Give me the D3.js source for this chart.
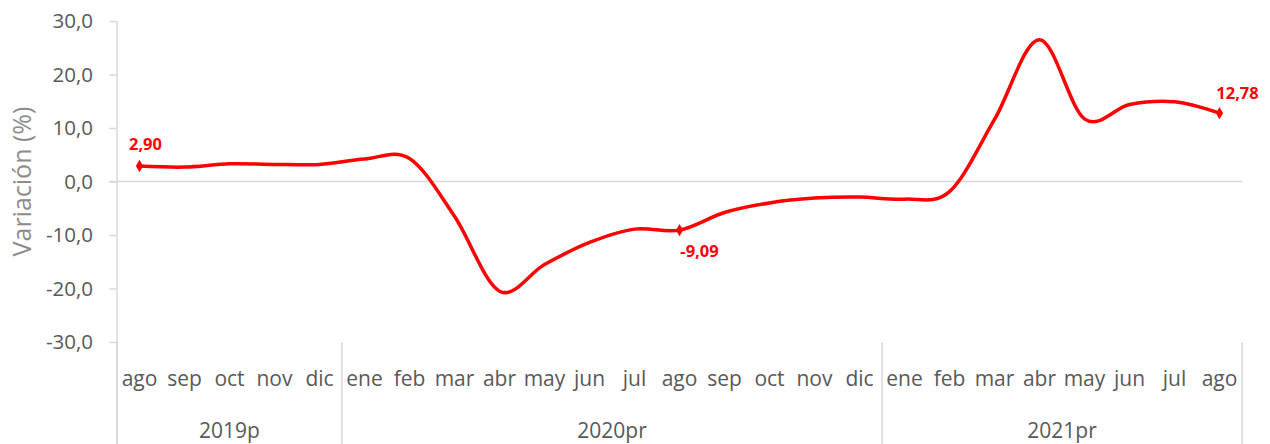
<!DOCTYPE html>
<html>
<head>
<meta charset="utf-8">
<script src="https://cdn.jsdelivr.net/npm/d3@7"></script>
<style>
  body { margin: 0; background: #fff; }
  text { font-family: "Segoe UI", "Open Sans", sans-serif; }
</style>
</head>
<body>
<script>

// months from ago 2019 to ago 2021
var months  = ["ago","sep","oct","nov","dic",
               "ene","feb","mar","abr","may","jun","jul","ago","sep","oct","nov","dic",
               "ene","feb","mar","abr","may","jun","jul","ago"];
var years   = [ {label: "2019p",  from: 0,  to: 5},
                {label: "2020pr", from: 5,  to: 17},
                {label: "2021pr", from: 17, to: 25} ];
var values  = [2.90, 2.7, 3.3, 3.2, 3.2,
               4.2, 4.3, -6.5, -20.5, -15.5, -11.4, -8.9, -9.09, -5.8, -4.0, -3.1, -2.9,
               -3.3, -1.9, 11.6, 26.5, 11.7, 14.4, 14.9, 12.78];
var yTicks  = [-30, -20, -10, 0, 10, 20, 30];
var shown   = [0, 12, 24];          // points with a marker and a label

var W = 1270, H = 444;
var pLeft = 117, pRight = 1242, pTop = 21, pBottom = 342;

var svg = d3.select("body").append("svg")
    .attr("width", W)
    .attr("height", H);

var x = d3.scaleBand()
    .domain(d3.range(months.length))
    .range([pLeft, pRight])
    .padding(0);

var y = d3.scaleLinear()
    .domain([-30, 30])
    .range([pBottom, pTop]);

// comma decimals, plain hyphen for the minus sign
var loc = d3.formatLocale({decimal: ",", thousands: ".", grouping: [3], currency: ["", ""], minus: "-"});
var fmt = function(v, n) { return loc.format("." + n + "f")(v); };
var cx  = function(i) { return x(i) + x.bandwidth() / 2; };

// zero line and y axis
svg.append("line")
    .attr("x1", pLeft - 8).attr("x2", pRight)
    .attr("y1", y(0)).attr("y2", y(0))
    .style("stroke", "#d9d9d9").style("stroke-width", 1.5);

var yAxis = svg.append("g")
    .attr("transform", "translate(" + pLeft + ",0)")
    .call(d3.axisLeft(y).tickValues(yTicks).tickSize(8).tickPadding(16)
          .tickFormat(function(d) { return fmt(d, 1); }));
yAxis.select(".domain").attr("d", "M0," + pTop + "V" + H).style("stroke", "#d9d9d9").style("stroke-width", 1.5);
yAxis.selectAll(".tick line").style("stroke", "#d9d9d9").style("stroke-width", 1.5);
yAxis.selectAll(".tick text")
    .style("font-size", "20.5px")
    .style("fill", "#595959");

svg.append("text")
    .attr("transform", "translate(31," + y(0) + ") rotate(-90)")
    .attr("text-anchor", "middle")
    .style("font-size", "25px")
    .style("fill", "#8c8c8c")
    .text("Variación (%)");

// month labels
svg.selectAll(".month")
    .data(months)
    .enter().append("text")
    .attr("x", function(d, i) { return cx(i); })
    .attr("y", 386)
    .attr("text-anchor", "middle")
    .style("font-size", "21px")
    .style("fill", "#595959")
    .text(function(d) { return d; });

// year separators and labels
var seps = [0].concat(years.map(function(d) { return d.to; }));
svg.selectAll(".sep")
    .data(seps)
    .enter().append("line")
    .attr("x1", function(d) { return d == 25 ? pRight : x(d); })
    .attr("x2", function(d) { return d == 25 ? pRight : x(d); })
    .attr("y1", pBottom).attr("y2", H)
    .style("stroke", "#d9d9d9").style("stroke-width", 1.5);

svg.selectAll(".year")
    .data(years)
    .enter().append("text")
    .attr("x", function(d) { return (x(d.from) + (d.to == 25 ? pRight : x(d.to))) / 2; })
    .attr("y", 438)
    .attr("text-anchor", "middle")
    .style("font-size", "21px")
    .style("fill", "#595959")
    .text(function(d) { return d.label; });

// the series
var line = d3.line()
    .x(function(d, i) { return cx(i); })
    .y(function(d) { return y(d); })
    .curve(d3.curveCardinal.tension(0));

svg.append("path")
    .datum(values)
    .attr("d", line)
    .style("fill", "none")
    .style("stroke", "#ff0000")
    .style("stroke-width", 3.5);

svg.selectAll(".marker")
    .data(shown)
    .enter().append("path")
    .attr("d", d3.symbol().type(d3.symbolDiamond).size(45))
    .attr("transform", function(i) { return "translate(" + cx(i) + "," + y(values[i]) + ")"; })
    .style("fill", "#ff0000");

var labelPos = { 0: [6, -16], 12: [20, 27], 24: [18, -14] };
svg.selectAll(".lbl")
    .data(shown)
    .enter().append("text")
    .attr("x", function(i) { return cx(i) + labelPos[i][0]; })
    .attr("y", function(i) { return y(values[i]) + labelPos[i][1]; })
    .attr("text-anchor", "middle")
    .style("font-size", "16.5px")
    .style("font-weight", "bold")
    .style("fill", "#ff0000")
    .text(function(i) { return fmt(values[i], 2); });

</script>
</body>
</html>
